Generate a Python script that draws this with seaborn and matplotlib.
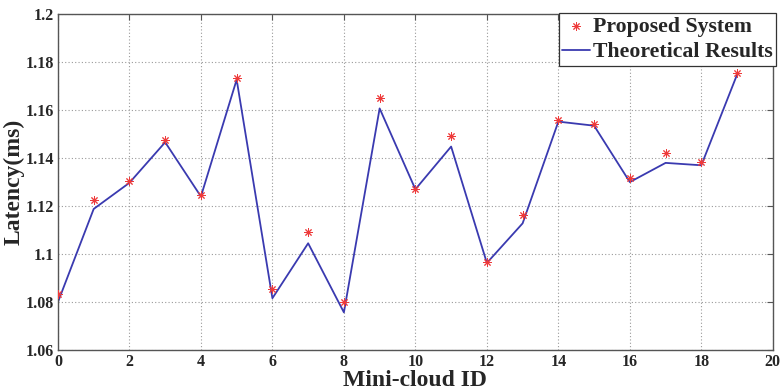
import numpy as np
import pandas as pd
import matplotlib
matplotlib.use("Agg")
import matplotlib.pyplot as plt
import seaborn as sns

# Mini-cloud identifiers and measured / modelled latencies (ms)
cloud_ids = list(range(20))
proposed_latency = [1.0833, 1.1226, 1.1305, 1.1476, 1.1245, 1.1733, 1.0854, 1.1091,
                    1.0802, 1.1652, 1.1273, 1.1490, 1.0967, 1.1161, 1.1557, 1.1540,
                    1.1318, 1.1421, 1.1382, 1.1755]
theoretical_latency = [1.0800, 1.1188, 1.1297, 1.1466, 1.1240, 1.1727, 1.0816, 1.1045,
                       1.0757, 1.1607, 1.1270, 1.1448, 1.0963, 1.1128, 1.1552, 1.1535,
                       1.1300, 1.1380, 1.1370, 1.1748]
x_ticks = [0, 2, 4, 6, 8, 10, 12, 14, 16, 18, 20]
y_ticks = [1.06, 1.08, 1.1, 1.12, 1.14, 1.16, 1.18, 1.2]
y_tick_labels = ["1.06", "1.08", "1.1", "1.12", "1.14", "1.16", "1.18", "1.2"]

df = pd.DataFrame({"id": cloud_ids,
                   "proposed": proposed_latency,
                   "theoretical": theoretical_latency})

sns.set_style("white")
plt.rcParams["font.family"] = ["Liberation Serif", "DejaVu Serif"]
plt.rcParams["font.weight"] = "bold"

fig = plt.figure(figsize=(7.83, 3.92), dpi=100)
ax = fig.add_axes([0.074, 0.107, 0.913, 0.857])

sns.lineplot(data=df, x="id", y="theoretical", ax=ax, color="#3a3ab0",
             linewidth=1.3, label="Theoretical Results", zorder=2)
sns.scatterplot(data=df, x="id", y="proposed", ax=ax, marker=(8, 2, 0),
                color="#ee3a3a", edgecolor="#ee3a3a", s=30, linewidth=0.7,
                label="Proposed System", zorder=3)

ax.set_xlim(0, 20)
ax.set_ylim(1.06, 1.2)
ax.set_xticks(x_ticks)
ax.set_xticklabels([str(t) for t in x_ticks])
ax.set_yticks(y_ticks)
ax.set_yticklabels(y_tick_labels)
ax.tick_params(direction="in", top=True, right=True, length=4, width=0.8,
               color="#555555", labelsize=11.5, pad=3)
for lab in ax.get_xticklabels() + ax.get_yticklabels():
    lab.set_fontweight("bold")

ax.grid(True, linestyle=(0, (1, 2)), color="#9a9a9a", linewidth=0.8)
for sp in ax.spines.values():
    sp.set_color("#555555")
    sp.set_linewidth(1.0)

ax.set_xlabel("Mini-cloud ID", fontsize=17, fontweight="bold", labelpad=0)
ax.set_ylabel("Latency(ms)", fontsize=17, fontweight="bold")
ax.yaxis.set_label_coords(-0.047, 0.5)

handles, labels = ax.get_legend_handles_labels()
order = [labels.index("Proposed System"), labels.index("Theoretical Results")]
leg = ax.legend([handles[i] for i in order], [labels[i] for i in order],
                loc="upper right", bbox_to_anchor=(1.004, 1.003),
                prop={"family": "Liberation Serif", "weight": "bold", "size": 15.7},
                frameon=True, fancybox=False, borderpad=0.15, labelspacing=0.25,
                handlelength=1.3, handletextpad=0.1, borderaxespad=0.0)
leg.get_frame().set_edgecolor("#333333")
leg.get_frame().set_linewidth(0.9)
leg.get_frame().set_alpha(1)

fig.savefig("out.png", dpi=100)
